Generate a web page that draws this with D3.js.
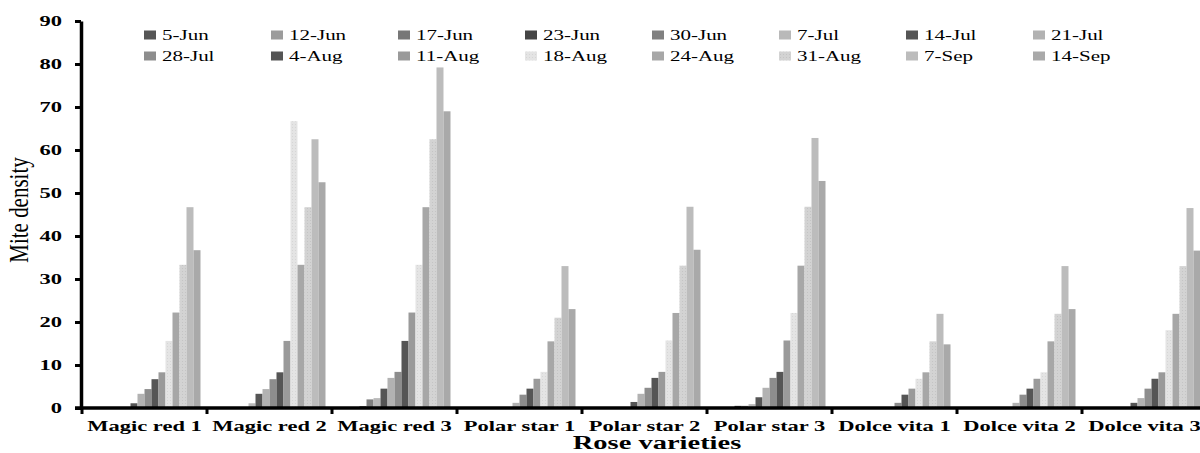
<!DOCTYPE html>
<html>
<head>
<meta charset="utf-8">
<script src="https://cdn.jsdelivr.net/npm/d3@7"></script>
<style>
  body { margin: 0; background: #fff; }
  svg { display: block; font-family: "Liberation Serif", "DejaVu Serif", serif; }
</style>
</head>
<body>
<svg id="chart" width="1200" height="453"></svg>
<script>
const varieties = ["Magic red 1", "Magic red 2", "Magic red 3", "Polar star 1", "Polar star 2",
    "Polar star 3", "Dolce vita 1", "Dolce vita 2", "Dolce vita 3"];
const dates = ["5-Jun", "12-Jun", "17-Jun", "23-Jun", "30-Jun", "7-Jul", "14-Jul", "21-Jul",
    "28-Jul", "4-Aug", "11-Aug", "18-Aug", "24-Aug", "31-Aug", "7-Sep", "14-Sep"];
const yTicks = [0, 10, 20, 30, 40, 50, 60, 70, 80, 90];

// mite density per variety, one value per sampling date
const magicRed1  = [0, 0, 0, 0, 0, 0, 1.1, 3.3, 4.4, 6.7, 8.3, 15.6, 22.2, 33.3, 46.7, 36.7];
const magicRed2  = [0, 0, 0, 0, 0, 1.1, 3.3, 4.4, 6.7, 8.3, 15.6, 66.7, 33.3, 46.7, 62.5, 52.5];
const magicRed3  = [0, 0, 0, 0.4, 2.0, 2.3, 4.5, 7.0, 8.4, 15.6, 22.2, 33.3, 46.7, 62.5, 79.2, 69.0];
const polarStar1 = [0, 0, 0, 0, 0, 0, 0, 1.2, 3.1, 4.5, 6.8, 8.4, 15.5, 21.0, 33.0, 23.0];
const polarStar2 = [0, 0, 0, 0, 0, 0, 1.4, 3.3, 4.7, 7.0, 8.4, 15.7, 22.1, 33.1, 46.8, 36.8];
const polarStar3 = [0, 0, 0, 0.5, 0.5, 0.9, 2.5, 4.7, 7.0, 8.4, 15.7, 22.1, 33.1, 46.8, 62.8, 52.8];
const dolceVita1 = [0, 0, 0, 0, 0, 0, 0, 0, 1.2, 3.1, 4.5, 6.8, 8.3, 15.5, 21.9, 14.8];
const dolceVita2 = [0, 0, 0, 0, 0, 0, 0, 1.2, 3.1, 4.5, 6.8, 8.3, 15.5, 21.9, 33.0, 23.0];
const dolceVita3 = [0, 0, 0, 0, 0, 0, 1.2, 2.3, 4.5, 6.8, 8.3, 18.1, 21.9, 33.0, 46.5, 36.6];
const values = [magicRed1, magicRed2, magicRed3, polarStar1, polarStar2,
    polarStar3, dolceVita1, dolceVita2, dolceVita3];

const greys = ["#565656", "#9c9c9c", "#777777", "#454545", "#808080", "#b9b9b9", "#555555", "#b2b2b2",
    "#8d8d8d", "#555555", "#9a9a9a", "url(#dotsLight)", "#a7a7a7", "url(#dotsMid)", "#bcbcbc", "#a9a9a9"];

const svg = d3.select("#chart");

// dotted fills for the two textured series
const defs = svg.append("defs");
[["dotsLight", "#e4e4e4", "#d6d6d6"], ["dotsMid", "#d3d3d3", "#c4c4c4"]].forEach(([id, bg, dot]) => {
    const p = defs.append("pattern").attr("id", id)
        .attr("width", 3).attr("height", 3).attr("patternUnits", "userSpaceOnUse");
    p.append("rect").attr("width", 3).attr("height", 3).attr("fill", bg);
    p.append("rect").attr("x", 1).attr("y", 1).attr("width", 1).attr("height", 1).attr("fill", dot);
});

const x0 = d3.scaleBand().domain(varieties).range([82, 1207]);
const x1 = d3.scaleBand().domain(dates).range([0, x0.bandwidth()]).paddingOuter(0.93);
const y = d3.scaleLinear().domain([0, 90]).range([408, 21]);

// bars
const groups = svg.append("g").selectAll("g")
    .data(varieties)
    .join("g")
    .attr("transform", d => "translate(" + x0(d) + ",0)");

groups.selectAll("rect")
    .data((d, i) => dates.map((date, j) => ({date: date, idx: j, value: values[i][j]})))
    .join("rect")
    .attr("x", d => x1(d.date))
    .attr("y", d => y(d.value))
    .attr("width", x1.bandwidth())
    .attr("height", d => y(0) - y(d.value))
    .attr("fill", d => greys[d.idx]);

// y axis
const yAxis = svg.append("g")
    .attr("transform", "translate(81,0)")
    .call(d3.axisLeft(y).tickValues(yTicks).tickSize(6).tickSizeOuter(0));
yAxis.select(".domain").attr("stroke", "#000").attr("stroke-width", 3.5);
yAxis.selectAll(".tick line").attr("stroke", "#000").attr("stroke-width", 3);
yAxis.selectAll(".tick text")
    .attr("x", 0)
    .attr("transform", "translate(-19,0) scale(1.5,1)")
    .style("font-size", "15px")
    .style("font-weight", "bold")
    .attr("fill", "#000")
    .style("font-family", "Liberation Serif, serif");

// x axis: labels at band centres, ticks at band edges
const xAxis = svg.append("g")
    .attr("transform", "translate(0,408)")
    .call(d3.axisBottom(x0).tickSize(0).tickPadding(12).tickSizeOuter(0));
xAxis.select(".domain").remove();
xAxis.selectAll(".tick text")
    .attr("transform", "scale(1.5,1)")
    .style("font-size", "15px")
    .style("font-weight", "bold")
    .attr("fill", "#000")
    .style("font-family", "Liberation Serif, serif");

svg.append("line")
    .attr("x1", 75).attr("x2", 1200)
    .attr("y1", 408).attr("y2", 408)
    .attr("stroke", "#000").attr("stroke-width", 3.5);

svg.append("g").selectAll("line")
    .data(varieties.concat(["end"]))
    .join("line")
    .attr("x1", d => d === "end" ? 1207 : x0(d))
    .attr("x2", d => d === "end" ? 1207 : x0(d))
    .attr("y1", 408).attr("y2", 414)
    .attr("stroke", "#000").attr("stroke-width", 3);

// axis titles
svg.append("text")
    .attr("transform", "translate(657,449) scale(1.5,1)")
    .attr("text-anchor", "middle")
    .style("font-size", "19px")
    .style("font-weight", "bold")
    .text("Rose varieties");

svg.append("text")
    .attr("transform", "translate(28,210) scale(1.35,1) rotate(-90)")
    .attr("text-anchor", "middle")
    .style("font-size", "21px")
    .text("Mite density");

// legend: two rows of eight
const legend = svg.append("g").selectAll("g")
    .data(dates)
    .join("g")
    .attr("transform", (d, i) => "translate(" + (144 + (i % 8) * 127) + "," + (i < 8 ? 35 : 56) + ")");

legend.append("rect")
    .attr("x", 0).attr("y", -4.5)
    .attr("width", 12).attr("height", 9)
    .attr("fill", (d, i) => greys[i]);

legend.append("text")
    .attr("transform", "translate(18,0) scale(1.5,1)")
    .attr("dy", "0.35em")
    .style("font-size", "14px")
    .text(d => d);
</script>
</body>
</html>
